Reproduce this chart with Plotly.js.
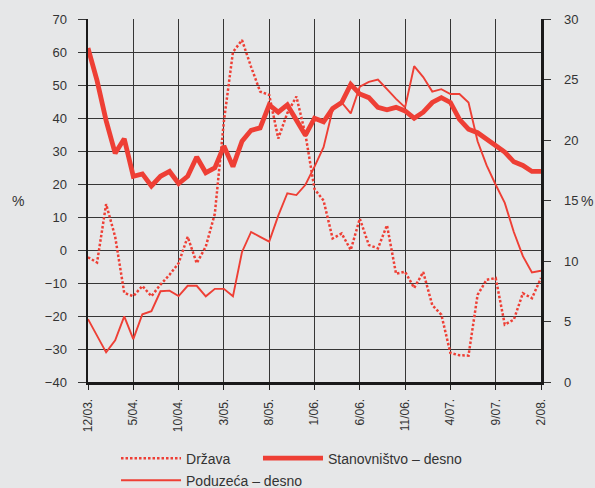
<!DOCTYPE html>
<html>
<head>
<meta charset="utf-8">
<script src="https://cdn.plot.ly/plotly-3.0.1.min.js"></script>
<style>
html,body{margin:0;padding:0;background:#e6e7e8;}
#chart{width:595px;height:488px;}
</style>
</head>
<body>
<div id="chart"></div>
<script>
var months = ['12/03.','1/04.','2/04.','3/04.','4/04.','5/04.','6/04.','7/04.','8/04.','9/04.','10/04.','11/04.','12/04.',
'1/05.','2/05.','3/05.','4/05.','5/05.','6/05.','7/05.','8/05.','9/05.','10/05.','11/05.','12/05.',
'1/06.','2/06.','3/06.','4/06.','5/06.','6/06.','7/06.','8/06.','9/06.','10/06.','11/06.','12/06.',
'1/07.','2/07.','3/07.','4/07.','5/07.','6/07.','7/07.','8/07.','9/07.','10/07.','11/07.','12/07.',
'1/08.','2/08.'];

var tickLabels = ['12/03.','5/04.','10/04.','3/05.','8/05.','1/06.','6/06.','11/06.','4/07.','9/07.','2/08.'];

// Država (left axis, %)
var drzava = [-2.2,-3.8,13.9,4,-13,-14,-10.9,-14,-10.5,-7.5,-4,4,-4,1,11,39,60,63.6,55.5,48,47,33.8,41.5,46.5,35,
18.5,15,3.5,5,0,9.5,1.5,0.5,7.5,-7.2,-6.6,-11.5,-6.7,-16.7,-19.6,-31.2,-31.9,-32,-13.6,-9,-8.5,-22.6,-21.1,-13.1,-14.6,-8.5];

// Stanovništvo (right axis, %)
var stanovnistvo = [27.6,24.9,21.6,18.9,20.1,17.0,17.2,16.2,17.0,17.4,16.4,17.0,18.6,17.3,17.7,19.5,17.8,19.9,20.8,21.0,22.9,
22.3,22.9,21.6,20.4,21.8,21.5,22.6,23.1,24.6,23.8,23.5,22.7,22.5,22.7,22.4,21.8,22.3,23.1,23.5,23.1,21.7,20.9,20.6,20.1,
19.5,19.0,18.2,17.9,17.4,17.4];

// Poduzeća (right axis, %)
var poduzeca = [5.2,3.8,2.45,3.45,5.43,3.55,5.6,5.85,7.5,7.55,7.1,7.95,7.95,7.08,7.7,7.7,7.08,10.75,12.4,12.0,11.6,13.75,15.6,
15.45,16.3,17.8,19.4,22.5,23.1,22.2,24.4,24.8,25.0,24.2,23.4,22.7,26.1,25.2,24.0,24.2,23.8,23.8,23.1,19.9,17.9,16.3,14.8,
12.4,10.4,9.06,9.2];

var red = '#ee3f35';
var fnt = 'Liberation Sans, Arial, Helvetica, sans-serif';

var traces = [
  {x: months, y: poduzeca, yaxis: 'y2', type: 'scatter', mode: 'lines', name: 'Poduzeća – desno',
   line: {color: red, width: 1.9}, legend: 'legend3'},
  {x: months, y: stanovnistvo, yaxis: 'y2', type: 'scatter', mode: 'lines', name: 'Stanovništvo – desno',
   line: {color: red, width: 4.8}, legend: 'legend2'},
  {x: months, y: drzava, yaxis: 'y', type: 'scatter', mode: 'lines', name: 'Država',
   line: {color: red, width: 2.5, dash: '2.5px,2px'}, legend: 'legend'}
];

function leg(x, y) {
  return {
    orientation: 'h', xref: 'container', yref: 'container',
    x: x, xanchor: 'left', y: y, yanchor: 'top',
    bgcolor: 'rgba(0,0,0,0)', font: {size: 14, color: '#333', family: fnt},
    itemwidth: 60
  };
}

var grid = '#363636';

var layout = {
  width: 595, height: 488,
  paper_bgcolor: '#e6e7e8', plot_bgcolor: '#e6e7e8',
  margin: {l: 88, r: 54, t: 19, b: 106, autoexpand: false},
  font: {family: fnt, size: 13, color: '#333'},
  showlegend: true,
  xaxis: {
    type: 'category', categoryorder: 'array', categoryarray: months,
    range: [0, 50], tickmode: 'array', tickvals: tickLabels, ticktext: tickLabels,
    tickangle: -90, tickfont: {size: 12, color: '#333', family: fnt},
    ticks: 'outside', ticklen: 5, tickcolor: '#222', tickwidth: 1,
    showgrid: true, gridcolor: grid, gridwidth: 1,
    showline: true, linecolor: '#1a1a1a', linewidth: 3,
    ticklabelstandoff: 4, fixedrange: true
  },
  yaxis: {
    range: [-40, 70], dtick: 10, tick0: 0,
    ticks: 'outside', ticklen: 8, tickcolor: grid, tickwidth: 1,
    showgrid: true, gridcolor: grid, gridwidth: 1, zeroline: false,
    showline: true, linecolor: '#1a1a1a', linewidth: 2.5,
    tickfont: {size: 13, color: '#333', family: fnt}, ticklabelstandoff: 8
  },
  yaxis2: {
    range: [0, 30], dtick: 5, tick0: 0, overlaying: 'y', side: 'right',
    ticks: 'outside', ticklen: 7, tickcolor: '#333', tickwidth: 1,
    showgrid: false, zeroline: false,
    showline: true, linecolor: '#1a1a1a', linewidth: 2.5,
    tickprefix: '\u00A0\u00A0\u00A0',
    tickfont: {size: 13, color: '#333', family: fnt}
  },
  yaxis3: {
    range: [0, 30], dtick: 5, tick0: 0, overlaying: 'y', side: 'right',
    ticks: 'inside', ticklen: 7, tickcolor: '#333', tickwidth: 1,
    showgrid: false, zeroline: false, showline: false, showticklabels: false
  },
  legend: leg(0.195, 0.093),
  legend2: leg(0.4336, 0.093),
  legend3: leg(0.195, 0.048),
  annotations: [
    {text: '%', xref: 'paper', yref: 'paper', x: -0.155, xanchor: 'center', y: 0.5, showarrow: false,
     font: {size: 14, color: '#333', family: fnt}},
    {text: '%', xref: 'paper', yref: 'paper', x: 1.102, xanchor: 'center', y: 0.5, showarrow: false,
     font: {size: 14, color: '#333', family: fnt}}
  ]
};

Plotly.newPlot('chart', traces, layout, {displayModeBar: false, staticPlot: true});
</script>
</body>
</html>
